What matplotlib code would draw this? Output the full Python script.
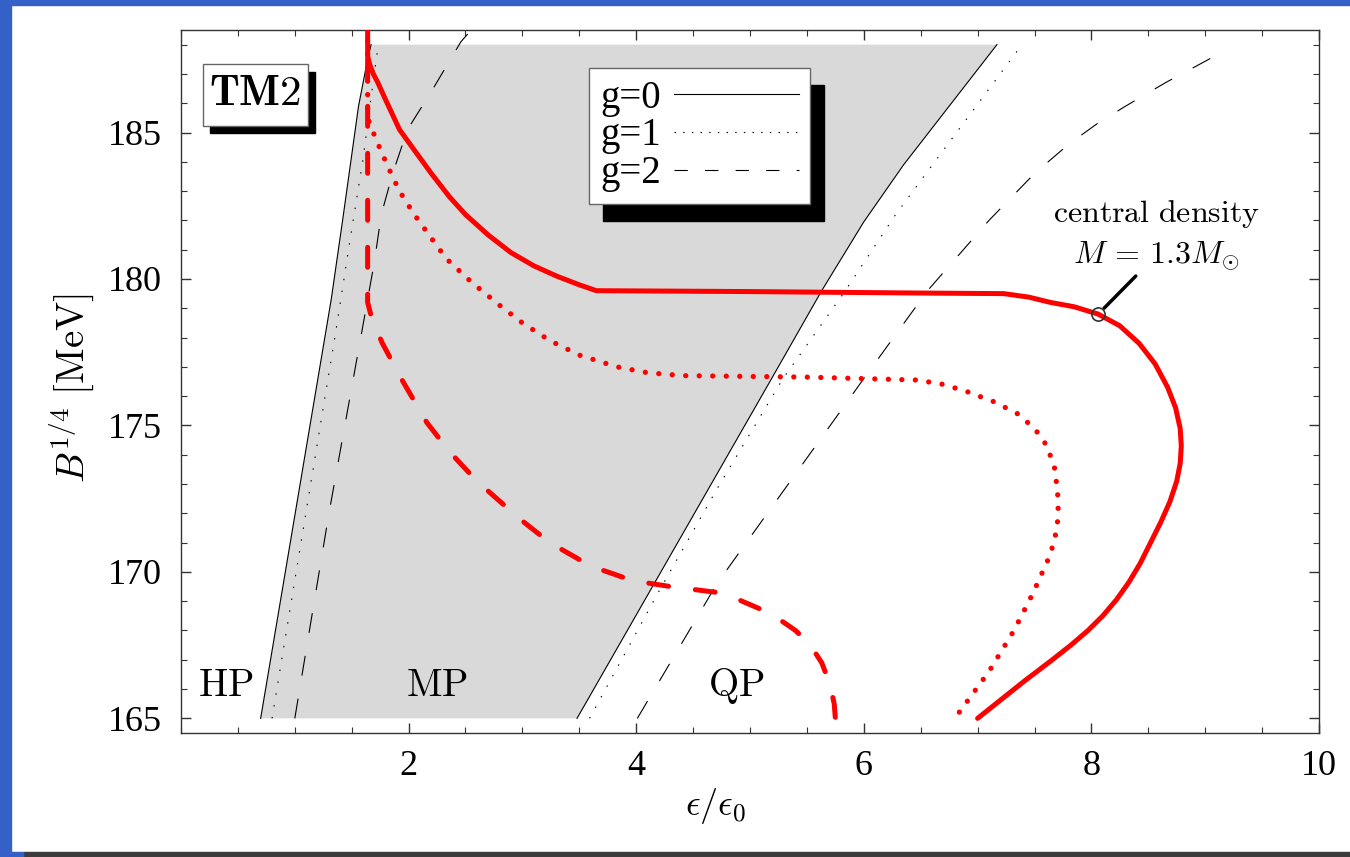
import matplotlib.pyplot as plt
from matplotlib.patches import Rectangle
from matplotlib.lines import Line2D
from matplotlib.ticker import MultipleLocator, FixedLocator
from matplotlib.transforms import IdentityTransform

plt.rcParams['font.family'] = 'serif'
plt.rcParams['font.serif'] = ['Liberation Serif', 'DejaVu Serif']
plt.rcParams['mathtext.fontset'] = 'cm'

# phase boundaries: hadron/mixed (left) and mixed/quark (right), g = 0, 1, 2
hm_g0_x = [0.70, 1.32, 1.42, 1.56, 1.64, 1.67]
hm_g0_y = [165.0, 179.3, 182.0, 185.9, 187.5, 188.0]
hm_g1_x = [0.80, 1.36, 1.48, 1.60, 1.67, 1.72, 1.73]
hm_g1_y = [165.0, 178.2, 181.2, 184.1, 186.2, 187.6, 188.0]
hm_g2_x = [1.00, 1.30, 1.64, 1.70, 1.76, 1.86, 1.99, 2.20, 2.46, 2.55]
hm_g2_y = [165.0, 172.0, 179.3, 180.6, 182.2, 183.6, 185.1, 186.4, 188.1, 188.5]

mq_g0_x = [3.48, 5.19, 5.63, 6.00, 6.35, 6.69, 7.17]
mq_g0_y = [165.0, 176.6, 179.6, 181.95, 183.9, 185.6, 188.0]
mq_g1_x = [3.59, 4.18, 4.72, 5.29, 5.82, 6.28, 6.70, 7.39]
mq_g1_y = [165.0, 169.2, 172.9, 176.6, 179.5, 182.2, 184.4, 188.0]
mq_g2_x = [4.01, 4.71, 6.00, 6.56, 7.10, 7.50, 7.80, 8.05, 8.30, 8.65, 9.08]
mq_g2_y = [165.0, 169.6, 176.6, 179.6, 182.0, 183.6, 184.6, 185.3, 185.9, 186.7, 187.6]

# central density of a 1.3 Msun star
cd_g0_x = [1.64, 1.64, 1.66, 1.69, 1.73, 1.80, 1.92, 2.05, 2.20, 2.36, 2.50, 2.70,
           2.90, 3.10, 3.30, 3.50, 3.65, 5.00, 6.50, 7.23, 7.45, 7.64, 7.85, 8.06,
           8.25, 8.42, 8.56, 8.67, 8.74, 8.78, 8.79, 8.78, 8.75, 8.69, 8.61, 8.52,
           8.43, 8.33, 8.22, 8.10, 7.97, 7.82, 7.64, 7.42, 7.20, 7.00]
cd_g0_y = [189.0, 187.6, 187.3, 187.0, 186.7, 186.1, 185.1, 184.4, 183.6, 182.8, 182.2, 181.5,
           180.9, 180.45, 180.1, 179.8, 179.6, 179.57, 179.52, 179.5, 179.38, 179.2, 179.05, 178.8,
           178.4, 177.8, 177.1, 176.3, 175.6, 174.9, 174.3, 173.7, 173.1, 172.4, 171.7, 171.0,
           170.3, 169.65, 169.05, 168.5, 168.0, 167.5, 166.95, 166.3, 165.62, 165.0]
cd_g1_x = [1.64, 1.64, 1.67, 1.71, 1.81, 1.92, 2.05, 2.18, 2.33, 2.55, 2.80, 3.00,
           3.24, 3.50, 3.83, 4.10, 4.41, 5.50, 6.47, 6.70, 6.91, 7.15, 7.35, 7.50,
           7.61, 7.68, 7.71, 7.70, 7.64, 7.49, 7.32, 7.10, 6.80]
cd_g1_y = [188.6, 185.5, 185.2, 184.8, 183.9, 183.0, 182.2, 181.5, 180.7, 179.9, 179.1, 178.5,
           177.9, 177.4, 177.0, 176.8, 176.7, 176.65, 176.55, 176.4, 176.15, 175.8, 175.4, 174.9,
           174.3, 173.5, 172.4, 171.5, 170.6, 169.3, 168.0, 166.6, 165.0]
cd_g2_x = [1.64, 1.64, 1.68, 1.77, 1.95, 2.16, 2.36, 2.60, 2.98, 3.24, 3.60, 3.97,
           4.30, 4.71, 4.90, 5.11, 5.25, 5.40, 5.53, 5.63, 5.70, 5.74, 5.75]
cd_g2_y = [187.5, 179.2, 178.6, 177.8, 176.5, 175.1, 174.1, 173.1, 171.8, 171.0, 170.2, 169.7,
           169.5, 169.3, 169.05, 168.7, 168.4, 168.0, 167.5, 166.9, 166.2, 165.5, 165.0]

mark_x, mark_y = 8.06, 178.8

phase_names = ['HP', 'MP', 'QP']
phase_x = [0.39, 2.25, 4.88]
phase_y = 166.1

fig = plt.figure(figsize=(13.5, 8.57), dpi=100)

# slide frame
fig.patches.append(Rectangle((0, 0), 1, 1, transform=fig.transFigure, color='white', zorder=-10))
fig.patches.append(Rectangle((0, 1 - 5 / 857), 1, 5 / 857, transform=fig.transFigure,
                             color='#3560c8', zorder=-9))
fig.patches.append(Rectangle((0, 0), 11 / 1350, 1, transform=fig.transFigure,
                             color='#3560c8', zorder=-9))
fig.patches.append(Rectangle((23 / 1350, 0), 1, 5 / 857, transform=fig.transFigure,
                             color='#3c3c3c', zorder=-9))
fig.patches.append(Rectangle((0, 0), 23 / 1350, 5 / 857, transform=fig.transFigure,
                             color='#3560c8', zorder=-9))

ax = fig.add_axes([181 / 1350, 1 - 733 / 857, 1138 / 1350, 703 / 857])
ax.set_xlim(0, 10)
ax.set_ylim(164.5, 188.5)

# mixed phase region for g=0
ax.fill(hm_g0_x + mq_g0_x[::-1], hm_g0_y + mq_g0_y[::-1], color='#d9d9d9', lw=0, zorder=1)

k = dict(color='black', lw=0.8, zorder=2)
dot_k = (0, (1.3, 9.5))
dash_k = (0, (18, 21))
ax.plot(hm_g0_x, hm_g0_y, ls='-', **k)
ax.plot(hm_g1_x, hm_g1_y, ls=dot_k, **k)
ax.plot(hm_g2_x, hm_g2_y, ls=dash_k, **k)
ax.plot(mq_g0_x, mq_g0_y, ls='-', **k)
ax.plot(mq_g1_x, mq_g1_y, ls=dot_k, **k)
ax.plot(mq_g2_x, mq_g2_y, ls=dash_k, **k)

ax.plot(cd_g0_x, cd_g0_y, color='red', lw=3.6, solid_capstyle='round',
        solid_joinstyle='round', zorder=3)
ax.plot(cd_g1_x, cd_g1_y, color='red', lw=3.8, ls=(0, (0.01, 2.55)),
        dash_capstyle='round', zorder=3)
ax.plot(cd_g2_x, cd_g2_y, color='red', lw=3.6, ls=(0, (4.0, 5.4)),
        dash_capstyle='round', dash_joinstyle='round', zorder=3)

ax.plot(mark_x, mark_y, 'o', mfc='none', mec='#333333', ms=9.5, mew=1.2, zorder=4)
ax.annotate('', xy=(mark_x, mark_y), xytext=(8.39, 180.1),
            arrowprops=dict(arrowstyle='-', lw=2.5, color='black', shrinkA=0, shrinkB=6))
ax.text(8.57, 181.5, '$\\mathrm{central\\ density}$\n$M\\,=\\,1.3M_{\\odot}$', fontsize=23,
        ha='center', va='center', linespacing=1.4)

for name, px in zip(phase_names, phase_x):
    ax.text(px, phase_y, '$\\mathrm{%s}$' % name, fontsize=28, ha='center', va='center')

# TM2 label box with drop shadow
ax.add_patch(Rectangle((0.0255, 0.8535), 0.0923, 0.0868, transform=ax.transAxes,
                       color='black', zorder=5))
ax.add_patch(Rectangle((0.0193, 0.8634), 0.0923, 0.0882, transform=ax.transAxes,
                       facecolor='white', edgecolor='#666666', lw=1, zorder=6))
ax.text(0.0655, 0.9075, '$\\mathbf{TM2}$', transform=ax.transAxes, fontsize=31,
        ha='center', va='center', zorder=7)

handles = [Line2D([], [], color='black', lw=0.8, ls='-'),
           Line2D([], [], color='black', lw=0.8, ls=(0, (1.3, 6.5))),
           Line2D([], [], color='black', lw=0.8, ls=(0, (12, 15.5)))]
leg = ax.legend(handles, ['g=0', 'g=1', 'g=2'], loc='upper left',
                bbox_to_anchor=(0.3585, 0.946), borderaxespad=0, fontsize=28,
                markerfirst=False, handlelength=3.2, handletextpad=0.33,
                labelspacing=0.02, borderpad=0.3, fancybox=False, framealpha=1,
                edgecolor='#666666')
leg.get_frame().set_linewidth(1)
leg.set_zorder(6)

ax.xaxis.set_major_locator(FixedLocator([2, 4, 6, 8, 10]))
ax.xaxis.set_minor_locator(MultipleLocator(0.5))
ax.yaxis.set_major_locator(MultipleLocator(5))
ax.yaxis.set_minor_locator(MultipleLocator(1))
ax.tick_params(which='both', direction='in', top=True, right=True, colors='#333333',
               labelcolor='black', labelsize=26)
ax.tick_params(which='major', length=7, width=1)
ax.tick_params(which='minor', length=4, width=0.8)
ax.tick_params(axis='y', pad=14)
ax.tick_params(axis='x', pad=12)
for s in ax.spines.values():
    s.set_color('#333333')
    s.set_linewidth(1.0)

ax.set_xlabel('$\\epsilon/\\epsilon_0$', fontsize=26)
ax.set_ylabel('$B^{1/4}\\ [\\mathrm{MeV}]$', fontsize=28)
ax.xaxis.set_label_coords(0.47, -0.075)
ax.yaxis.set_label_coords(-0.075, 0.49)

# drop shadow behind the legend
fig.canvas.draw()
bb = leg.get_window_extent()
ax.add_patch(Rectangle((bb.x0 + 14, bb.y0 - 17), bb.width, bb.height,
                       transform=IdentityTransform(), color='black', zorder=5.5,
                       clip_on=False))

fig.savefig('out.png', dpi=100)
